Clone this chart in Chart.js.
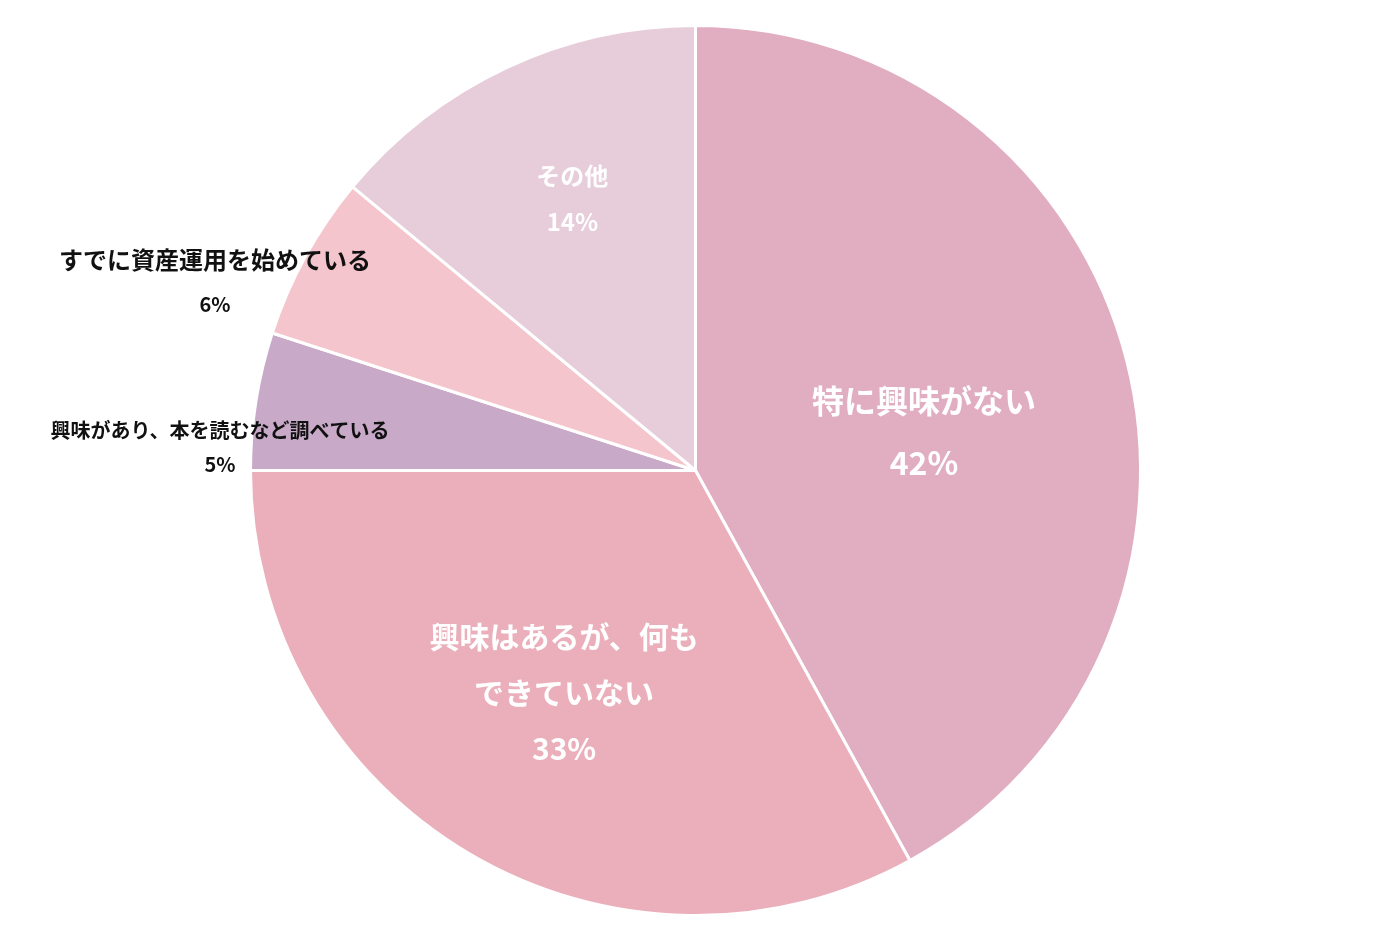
<!DOCTYPE html>
<html>
<head>
<meta charset="utf-8">
<script src="https://cdn.jsdelivr.net/npm/chart.js@4/dist/chart.umd.min.js"></script>
<style>
  html, body { margin: 0; padding: 0; background: #fff; }
  #wrap { width: 1391px; height: 941px; }
</style>
</head>
<body>
<div id="wrap"><canvas id="pieChart"></canvas></div>
<script>
// データ
const categories = ['特に興味がない', '興味はあるが、何も\nできていない', '興味があり、本を読むなど調べている', 'すでに資産運用を始めている', 'その他'];
const values = [42, 33, 5, 6, 14];
const colors = ['#E1ADC1', '#EAAFBA', '#C8AAC8', '#F5C5CD', '#E7CCD9'];

// ラベル配置（半径係数 / 固定オフセット）
const labelStyle = [
  { r: 0.53, dx: 0, dy: 20, size: 32, color: '#fff', gap: 62 },
  { r: 0.58, dx: 0, dy: 0, size: 30, color: '#fff', gap: 56 },
  { abs: [220, 430], size: 20, color: '#111', gap: 34 },
  { abs: [215, 260], size: 24, color: '#111', gap: 44 },
  { r: 0.65, dx: 0, dy: -10, size: 24, color: '#fff', gap: 46 }
];

const labelPlugin = {
  id: 'sliceLabels',
  afterDatasetsDraw(chart) {
    const ctx = chart.ctx;
    const arcs = chart.getDatasetMeta(0).data;
    arcs.forEach((arc, i) => {
      const st = labelStyle[i];
      let x, y;
      if (st.abs) {
        [x, y] = st.abs;
      } else {
        const mid = (arc.startAngle + arc.endAngle) / 2;
        x = arc.x + Math.cos(mid) * arc.outerRadius * st.r + st.dx;
        y = arc.y + Math.sin(mid) * arc.outerRadius * st.r + st.dy;
      }
      const lines = categories[i].split('\n').concat([values[i] + '%']);
      ctx.save();
      ctx.fillStyle = st.color;
      ctx.textAlign = 'center';
      ctx.textBaseline = 'middle';
      const total = (lines.length - 1) * st.gap;
      lines.forEach((t, k) => {
        const isPct = k === lines.length - 1;
        const sz = (st.abs && isPct) ? 20 : st.size;
        ctx.font = `bold ${sz}px "Noto Sans CJK JP", sans-serif`;
        const yy = st.abs ? y + k * st.gap : y - total / 2 + k * st.gap;
        ctx.fillText(t, x, yy);
      });
      ctx.restore();
    });
  }
};

new Chart(document.getElementById('pieChart'), {
  type: 'pie',
  data: {
    labels: categories,
    datasets: [{
      data: values,
      backgroundColor: colors,
      borderColor: '#fff',
      borderWidth: 3
    }]
  },
  options: {
    responsive: true,
    maintainAspectRatio: false,
    animation: false,
    layout: { padding: 24 },
    plugins: {
      legend: { display: false },
      tooltip: { enabled: false }
    }
  },
  plugins: [labelPlugin]
});
</script>
</body>
</html>
